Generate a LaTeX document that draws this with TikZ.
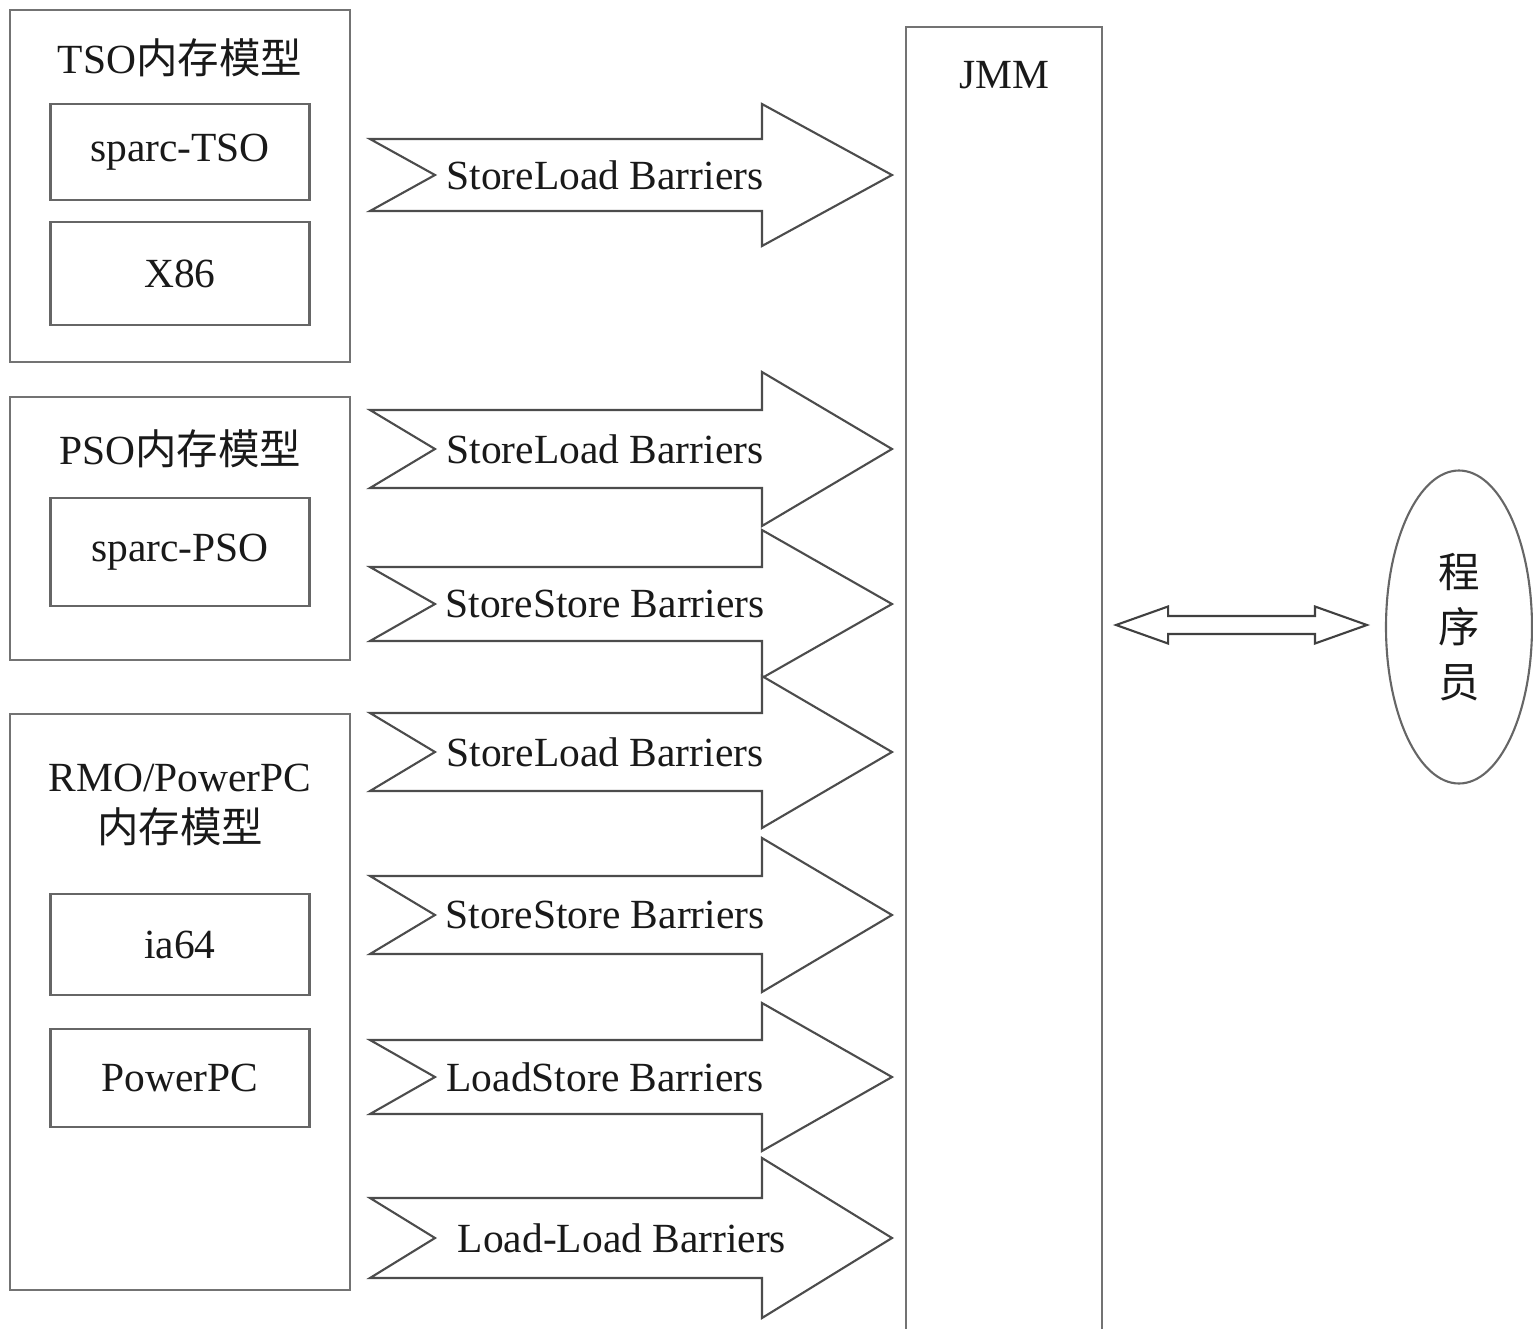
\documentclass[tikz,border=0pt]{standalone}
\usepackage{fontspec}
\setmainfont{Liberation Serif}
\newfontfamily\cjk{Noto Sans CJK SC}
\usetikzlibrary{shapes.geometric,calc}

\begin{document}
\begin{tikzpicture}[
                x=0.1mm, y=-0.1mm,
                every node/.style={
                    font=\fontsize{11.8}{14.5}\selectfont,
                    text=black!90
                },
                group/.style={
                    draw=black!55,
                    line width=0.6pt,
                    rectangle,
                    minimum width=34mm
                },
                cpu/.style={
                    draw=black!60,
                    line width=0.6pt,
                    rectangle,
                    minimum width=25.9mm
                },
                title/.style={
                    align=center
                },
                pics/barrier/.style n args={4}{code={
                    \draw[draw=black!70, line width=0.6pt, fill=white]
                        (0,-#1) -- (392,-#1) -- (392,-#2) -- (522,0) -- (392,#2)
                        -- (392,#1) -- (0,#1) -- (65,0) -- cycle;
                    \node (label) at (#3,0) {#4};
                }}
            ]
                \useasboundingbox (0,0) rectangle (1533,1329);

                % memory models
                \node[group, minimum height=35.2mm] (tso) at (180,186) {};
                \node[title] (tsotitle) at (180,58) {TSO{\cjk 内存模型}};
                \node[cpu, minimum height=9.6mm] (sparctso) at (180,152) {sparc-TSO};
                \node[cpu, minimum height=10.3mm] (x86) at (180,273.5) {X86};

                \node[group, minimum height=26.3mm] (pso) at (180,528.5) {};
                \node[title] (psotitle) at (180,449) {PSO{\cjk 内存模型}};
                \node[cpu, minimum height=10.8mm] (sparcpso) at (180,552) {sparc-PSO};

                \node[group, minimum height=57.6mm] (rmo) at (180,1002) {};
                \node[title] (rmotitle) at (180,805) {RMO/PowerPC\\{\cjk 内存模型}};
                \node[cpu, minimum height=10.1mm] (ia64) at (180,944.5) {ia64};
                \node[cpu, minimum height=9.8mm] (powerpc) at (180,1078) {PowerPC};

                % barriers
                \pic (b1) at (370,175)  {barrier={36}{71}{235}{StoreLoad Barriers}};
                \pic (b2) at (370,449)  {barrier={39}{77}{235}{StoreLoad Barriers}};
                \pic (b3) at (370,604)  {barrier={37}{74}{235}{StoreStore Barriers}};
                \pic (b4) at (370,752)  {barrier={39}{76}{235}{StoreLoad Barriers}};
                \pic (b5) at (370,915)  {barrier={39}{77}{235}{StoreStore Barriers}};
                \pic (b6) at (370,1077) {barrier={37}{74}{235}{LoadStore Barriers}};
                \pic (b7) at (370,1238) {barrier={40}{80}{252}{Load-Load Barriers}};

                % jmm and programmer
                \node[group, minimum width=19.6mm, minimum height=131.5mm, anchor=north] (jmm) at (1004,26) {};
                \node (jmmtitle) at (1004,75) {JMM};
                \node[draw=black!60, line width=0.6pt, ellipse, minimum width=14.6mm, minimum height=31.3mm,
                      align=center, font=\cjk\fontsize{11.8}{15.6}\selectfont] (prog) at (1459,627) {程\\序\\员};

                \coordinate (la) at ($(jmm.east |- prog.west)+(13,-2)$);
                \coordinate (ra) at ($(prog.west)+(-18,-2)$);
                \draw[draw=black!75, line width=0.6pt]
                    (la) -- ++(52,-18.5) -- ++(0,9.5) -- ($(ra)+(-52,-9)$) -- ++(0,-9.5) -- (ra)
                    -- ++(-52,18.5) -- ++(0,-9.5) -- ($(la)+(52,9)$) -- ++(0,9.5) -- cycle;
        \end{tikzpicture}
\end{document}
